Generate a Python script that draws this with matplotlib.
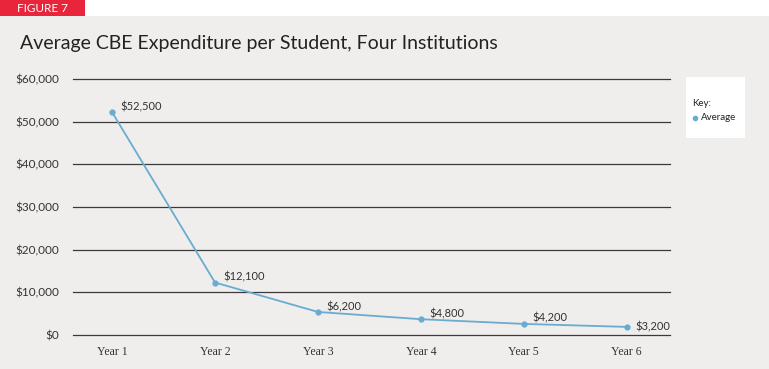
import matplotlib.pyplot as plt
from matplotlib.patches import Rectangle

# data
years = ['Year 1', 'Year 2', 'Year 3', 'Year 4', 'Year 5', 'Year 6']
plotted = [52200, 12300, 5400, 3700, 2600, 1900]   # where the points sit in the picture
point_labels = ['$52,500', '$12,100', '$6,200', '$4,800', '$4,200', '$3,200']
yticks = [0, 10000, 20000, 30000, 40000, 50000, 60000]
ytick_labels = ['$0', '$10,000', '$20,000', '$30,000', '$40,000', '$50,000', '$60,000']

bg = '#efeeed'
line_col = '#6aaccf'
W, H = 769, 369

fig = plt.figure(figsize=(W / 100, H / 100), dpi=100)
fig.patch.set_facecolor('white')

# grey panel + red figure tag
fig.add_artist(Rectangle((0, 0), 1, 1 - 16 / H, transform=fig.transFigure,
                         facecolor=bg, edgecolor='none', zorder=0))
fig.add_artist(Rectangle((0, 1 - 16 / H), 85 / W, 16 / H, transform=fig.transFigure,
                         facecolor='#e8253a', edgecolor='none', zorder=1))
fig.text(17 / W, 1 - 8.5 / H, 'FIGURE 7', color='white', fontsize=8.5,
         family='Lato', va='center', ha='left')
fig.text(20 / W, 1 - 44 / H, 'Average CBE Expenditure per Student, Four Institutions',
         fontsize=14, family='Lato', color='#222222', va='center', ha='left')

# axes
left, right, top, bottom = 73, 670, 79, 335
ax = fig.add_axes([left / W, 1 - bottom / H, (right - left) / W, (bottom - top) / H])
ax.set_facecolor('none')
x = list(range(len(years)))
ax.set_xlim(-0.38, 5.42)
ax.set_ylim(0, 60000)

for v in yticks:
    ax.axhline(v, color='#3a3a3a', lw=0.9, zorder=1, clip_on=False)

ax.plot(x, plotted, color=line_col, lw=1.3, marker='o', ms=3.5, zorder=3,
        clip_on=False)
for xi, yi, lab in zip(x, plotted, point_labels):
    dy = 4 if xi < 5 else 0
    ax.annotate(lab, (xi, yi), xytext=(6, dy), textcoords='offset points',
                fontsize=8, family='Lato', color='#333333', va='center', ha='left')

ax.set_yticks(yticks)
ax.set_yticklabels(ytick_labels, family='Lato', fontsize=8.5, color='#333333')
ax.set_xticks(x)
ax.set_xticklabels(years, family='Liberation Serif', fontsize=8.5, color='#333333')
ax.tick_params(length=0, pad=10)
ax.tick_params(axis='x', pad=8)
for s in ax.spines.values():
    s.set_visible(False)

# key box
fig.add_artist(Rectangle((686 / W, 1 - 138 / H), 59 / W, 61 / H, transform=fig.transFigure,
                         facecolor='white', edgecolor='none', zorder=1))
fig.text(692 / W, 1 - 103 / H, 'Key:', fontsize=7, family='Lato', color='#222222',
         va='center')
fig.add_artist(plt.Line2D([695 / W], [1 - 118 / H], transform=fig.transFigure,
                          marker='o', ms=3, color=line_col, zorder=2))
fig.text(701 / W, 1 - 118 / H, 'Average', fontsize=7, family='Lato', color='#222222',
         va='center')

fig.savefig('out.png', dpi=100, facecolor=fig.get_facecolor())
